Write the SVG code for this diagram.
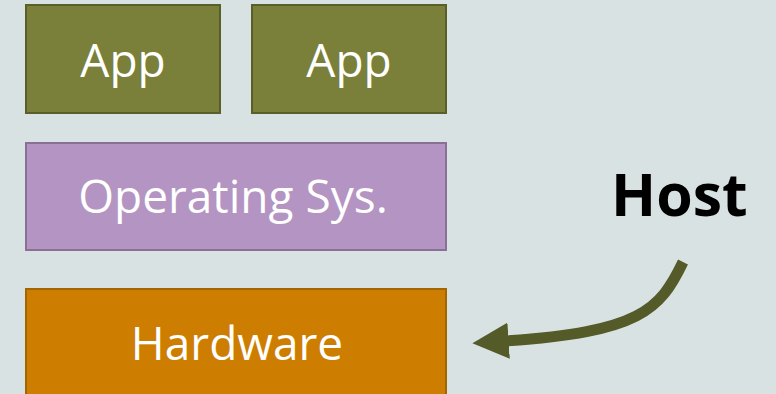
<svg xmlns="http://www.w3.org/2000/svg" width="776" height="394" viewBox="0 0 776 394">
  <style>
    .box { stroke-width: 2; }
    .label { font-family: "Open Sans", "Noto Sans", sans-serif; font-size: 46px; fill: #ffffff; text-anchor: middle; }
    .host { font-family: "Open Sans", "Noto Sans", sans-serif; font-size: 59px; font-weight: bold; fill: #000000; }
  </style>
  <defs>
    <marker id="head" viewBox="0 0 10 10" refX="1" refY="5" markerWidth="3.3" markerHeight="3.3" orient="auto" markerUnits="strokeWidth">
      <path d="M0,0 L10,5 L0,10 Z" fill="#545a28"/>
    </marker>
  </defs>
  <rect width="776" height="394" fill="#d9e2e3"/>

  <g id="app1">
    <rect class="box" x="26" y="5" width="194" height="108" fill="#7a7f3a" stroke="#5a5f29"/>
    <text class="label" x="123" y="77">App</text>
  </g>
  <g id="app2">
    <rect class="box" x="252" y="5" width="194" height="108" fill="#7a7f3a" stroke="#5a5f29"/>
    <text class="label" x="349" y="77">App</text>
  </g>
  <g id="os">
    <rect class="box" x="26" y="143" width="420" height="107" fill="#b394c2" stroke="#8a6f96"/>
    <text class="label" x="233" y="213">Operating Sys.</text>
  </g>
  <g id="hardware">
    <rect class="box" x="26" y="289" width="420" height="110" fill="#cd7e00" stroke="#a36500"/>
    <text class="label" x="237" y="360">Hardware</text>
  </g>
  <g id="host">
    <text class="host" x="611" y="216">Host</text>
  </g>

  <g id="connectors">
    <path d="M683,262 C660,310 640,332 505,341" fill="none" stroke="#545a28" stroke-width="11" marker-end="url(#head)"/>
  </g>
</svg>
